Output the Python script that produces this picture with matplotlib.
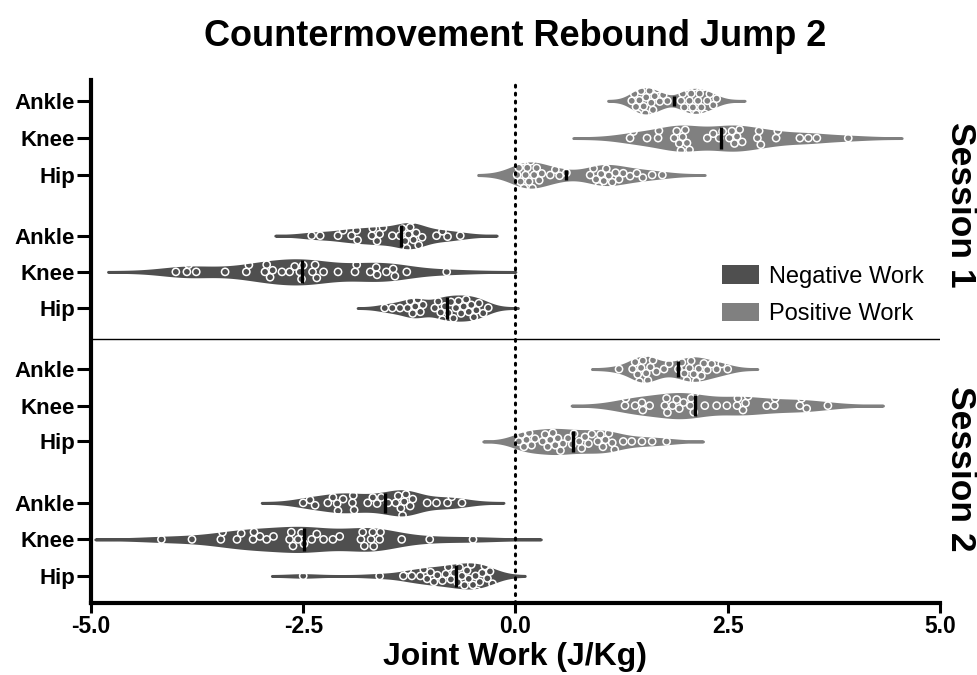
import numpy as np
import matplotlib
matplotlib.use('Agg')
import matplotlib.pyplot as plt
from matplotlib.patches import Patch

plt.rcParams['font.family'] = ['Liberation Sans', 'DejaVu Sans']

title = 'Countermovement Rebound Jump 2'
x_label = 'Joint Work (J/Kg)'
joints = ['Ankle', 'Knee', 'Hip']
sessions = ['Session 1', 'Session 2']
legend_labels = ['Negative Work', 'Positive Work']
x_ticks = [-5.0, -2.5, 0.0, 2.5, 5.0]
x_tick_labels = ['-5.0', '-2.5', '0.0', '2.5', '5.0']

# ---- Session 1 ----
s1_ankle_pos = [1.37, 1.40, 1.42, 1.44, 1.46, 1.48, 1.50, 1.51, 1.53, 1.54, 1.56, 1.58, 1.60,
                1.62, 1.64, 1.67, 1.70, 1.74, 1.79, 1.95, 1.97, 1.99, 2.01, 2.03, 2.05, 2.07,
                2.09, 2.11, 2.13, 2.15, 2.17, 2.19, 2.21, 2.23, 2.26, 2.29, 2.33, 2.37]
s1_knee_pos = [1.35, 1.39, 1.55, 1.68, 1.69, 1.87, 1.90, 1.93, 1.95, 1.97, 2.00, 2.02, 2.05,
               2.26, 2.33, 2.40, 2.44, 2.52, 2.55, 2.58, 2.61, 2.64, 2.67, 2.85, 2.87, 2.89,
               3.07, 3.09, 3.35, 3.45, 3.55, 3.92]
s1_hip_pos = [0.02, 0.04, 0.06, 0.08, 0.10, 0.12, 0.14, 0.16, 0.18, 0.20, 0.22, 0.25, 0.28,
              0.31, 0.41, 0.47, 0.52, 0.60, 0.88, 0.92, 0.95, 0.98, 1.01, 1.04, 1.07, 1.10,
              1.14, 1.18, 1.22, 1.27, 1.35, 1.43, 1.50, 1.61, 1.73]
s1_ankle_neg = [-2.40, -2.30, -2.09, -2.03, -1.93, -1.87, -1.86, -1.69, -1.68, -1.63, -1.60,
                -1.56, -1.45, -1.36, -1.33, -1.30, -1.28, -1.26, -1.24, -1.22, -1.20, -1.17,
                -1.14, -1.10, -0.93, -0.86, -0.80, -0.65]
s1_knee_neg = [-4.00, -3.87, -3.85, -3.76, -3.42, -3.17, -3.14, -2.95, -2.93, -2.89, -2.86,
               -2.75, -2.66, -2.60, -2.54, -2.52, -2.50, -2.39, -2.36, -2.34, -2.26, -2.09,
               -1.89, -1.87, -1.71, -1.64, -1.63, -1.52, -1.44, -1.42, -1.28, -0.81]
s1_hip_neg = [-1.54, -1.45, -1.36, -1.27, -1.24, -1.21, -1.18, -1.15, -1.12, -1.09, -0.95,
              -0.91, -0.88, -0.86, -0.83, -0.79, -0.76, -0.73, -0.70, -0.67, -0.64, -0.61,
              -0.58, -0.55, -0.52, -0.49, -0.46, -0.43, -0.38, -0.32]

# ---- Session 2 ----
s2_ankle_pos = [1.22, 1.38, 1.41, 1.44, 1.46, 1.48, 1.50, 1.52, 1.54, 1.56, 1.59, 1.62, 1.66,
                1.75, 1.81, 1.92, 1.96, 1.99, 2.02, 2.05, 2.07, 2.10, 2.13, 2.16, 2.19, 2.22,
                2.26, 2.31, 2.37, 2.43, 2.50]
s2_knee_pos = [1.29, 1.30, 1.41, 1.49, 1.50, 1.58, 1.76, 1.78, 1.79, 1.85, 1.90, 1.93, 1.98,
               2.06, 2.07, 2.10, 2.12, 2.23, 2.37, 2.49, 2.61, 2.62, 2.68, 2.71, 2.74, 2.96,
               3.05, 3.06, 3.35, 3.37, 3.43, 3.68]
s2_hip_pos = [0.04, 0.07, 0.10, 0.13, 0.16, 0.19, 0.23, 0.32, 0.35, 0.38, 0.41, 0.44, 0.47,
              0.50, 0.53, 0.56, 0.62, 0.67, 0.69, 0.75, 0.78, 0.82, 0.86, 0.90, 0.97, 1.00,
              1.03, 1.06, 1.10, 1.14, 1.17, 1.27, 1.37, 1.49, 1.61, 1.78]
s2_ankle_neg = [-2.50, -2.42, -2.36, -2.21, -2.15, -2.10, -2.09, -2.03, -1.92, -1.91, -1.90,
                -1.74, -1.68, -1.63, -1.58, -1.50, -1.41, -1.38, -1.35, -1.33, -1.31, -1.29,
                -1.27, -1.24, -1.21, -1.04, -0.93, -0.80, -0.75, -0.63]
s2_knee_neg = [-4.17, -3.81, -3.47, -3.45, -3.28, -3.23, -3.09, -3.08, -3.01, -2.93, -2.85,
               -2.66, -2.64, -2.62, -2.56, -2.52, -2.49, -2.40, -2.34, -2.26, -2.15, -2.07,
               -1.82, -1.80, -1.78, -1.70, -1.68, -1.67, -1.60, -1.59, -1.34, -1.01, -0.50]
s2_hip_neg = [-2.50, -1.60, -1.32, -1.27, -1.22, -1.12, -1.08, -1.04, -1.00, -0.96, -0.92,
              -0.86, -0.82, -0.79, -0.76, -0.72, -0.68, -0.66, -0.63, -0.60, -0.57, -0.55,
              -0.52, -0.50, -0.47, -0.45, -0.42, -0.39, -0.36, -0.33, -0.30, -0.27]

# extent of each drawn violin (J/Kg)
s1_pos_ranges = [(1.09, 2.70), (0.68, 4.55), (-0.44, 2.23)]
s1_neg_ranges = [(-2.83, -0.22), (-4.80, 0.00), (-1.86, 0.03)]
s2_pos_ranges = [(0.90, 2.85), (0.66, 4.33), (-0.38, 2.21)]
s2_neg_ranges = [(-2.99, -0.14), (-4.95, 0.30), (-2.87, 0.11)]

# ---- layout / style ----
NEG_COLOR = '#4f4f4f'
POS_COLOR = '#808080'
pos_rows_s1 = [13.0, 11.98, 10.97]
neg_rows_s1 = [9.31, 8.32, 7.33]
pos_rows_s2 = [5.66, 4.66, 3.68]
neg_rows_s2 = [2.0, 1.0, 0.0]
SEP_Y = 6.48
VIOLIN_WIDTH = 0.64
BW_FACTOR = 0.7

groups = []
for vals, rng, row in zip([s1_ankle_pos, s1_knee_pos, s1_hip_pos], s1_pos_ranges, pos_rows_s1):
    groups.append((vals, rng, row, POS_COLOR))
for vals, rng, row in zip([s1_ankle_neg, s1_knee_neg, s1_hip_neg], s1_neg_ranges, neg_rows_s1):
    groups.append((vals, rng, row, NEG_COLOR))
for vals, rng, row in zip([s2_ankle_pos, s2_knee_pos, s2_hip_pos], s2_pos_ranges, pos_rows_s2):
    groups.append((vals, rng, row, POS_COLOR))
for vals, rng, row in zip([s2_ankle_neg, s2_knee_neg, s2_hip_neg], s2_neg_ranges, neg_rows_s2):
    groups.append((vals, rng, row, NEG_COLOR))


def kde(vals, coords):
    v = np.asarray(vals, float)
    n = len(v)
    bw = v.std(ddof=1) * n ** (-0.2) * BW_FACTOR
    z = (coords[:, None] - v[None, :]) / bw
    return np.exp(-0.5 * z ** 2).sum(axis=1) / (n * bw * np.sqrt(2 * np.pi))


fig = plt.figure(figsize=(9.78, 6.75), dpi=100)
ax = fig.add_axes([0.0930, 0.1067, 0.8681, 0.7748])
ax.set_xlim(-5.0, 5.0)
ax.set_ylim(-0.74, 13.57)

for vals, rng, row, color in groups:
    coords = np.linspace(rng[0], rng[1], 400)
    dens = kde(vals, coords)
    v = np.asarray(vals, float)
    stats = [dict(coords=coords, vals=dens, mean=v.mean(), median=np.median(v),
                  min=rng[0], max=rng[1])]
    try:
        parts = ax.violin(stats, positions=[row], orientation='horizontal',
                          widths=VIOLIN_WIDTH, showextrema=False)
    except TypeError:
        parts = ax.violin(stats, positions=[row], vert=False,
                          widths=VIOLIN_WIDTH, showextrema=False)
    for b in parts['bodies']:
        b.set_facecolor(color)
        b.set_edgecolor(color)
        b.set_linewidth(2.0)
        b.set_alpha(1)
        b.set_joinstyle('round')
        b.set_capstyle('round')
        b.set_zorder(2)
    med = np.median(v)
    hw = 0.5 * VIOLIN_WIDTH * kde(vals, np.array([med]))[0] / dens.max()
    ax.plot([med, med], [row - hw, row + hw], color='black', lw=2.4,
            solid_capstyle='butt', zorder=5)

# swarm placement of points (computed in display space)
DIAM = 7.4


def swarm(vals, row):
    v = np.asarray(vals, float)
    disp = ax.transData.transform(np.column_stack([v, np.full(len(v), row)]))
    xp = disp[:, 0]
    y0 = disp[0, 1]
    order = np.argsort(xp)
    px, py = [], []
    out = np.zeros(len(v))
    for i in order:
        cands = [0.0]
        for xj, yj in zip(px, py):
            dx = abs(xp[i] - xj)
            if dx < DIAM:
                dy = np.sqrt(DIAM ** 2 - dx ** 2)
                cands += [yj + dy, yj - dy]
        cands = sorted(cands, key=lambda c: (abs(c), -c))
        chosen = cands[-1]
        for c in cands:
            ok = True
            for xj, yj in zip(px, py):
                if (xp[i] - xj) ** 2 + (c - yj) ** 2 < DIAM ** 2 - 0.05:
                    ok = False
                    break
            if ok:
                chosen = c
                break
        px.append(xp[i])
        py.append(chosen)
        out[i] = chosen
    pts = ax.transData.inverted().transform(np.column_stack([xp, y0 + out]))
    return pts[:, 1]


for vals, rng, row, color in groups:
    ys = swarm(vals, row)
    ax.scatter(vals, ys, s=27, facecolors='none', edgecolors='white',
               linewidths=1.1, zorder=4)

# zero reference line and session separator
ax.axvline(0, color='black', lw=2.2, linestyle=(0, (0.6, 2.0)),
           dash_capstyle='round', zorder=6)
ax.axhline(SEP_Y, color='black', lw=1.0, zorder=1)

# axes styling
for s in ['top', 'right']:
    ax.spines[s].set_visible(False)
for s in ['left', 'bottom']:
    ax.spines[s].set_linewidth(3.0)
ax.set_xticks(x_ticks)
ax.set_xticklabels(x_tick_labels, fontsize=16.5, fontweight='bold')
yt = pos_rows_s1 + neg_rows_s1 + pos_rows_s2 + neg_rows_s2
ax.set_yticks(yt)
ax.set_yticklabels(joints * 4, fontsize=16, fontweight='bold')
ax.tick_params(axis='x', length=7, width=2.2, direction='out', pad=2)
ax.tick_params(axis='y', length=10, width=2.2, direction='out', pad=1.5)
ax.set_xlabel(x_label, fontsize=23, fontweight='bold', labelpad=2.5)

fig.suptitle(title, fontsize=26, fontweight='bold', x=0.527, y=0.972)

fig.text(0.982, 0.696, sessions[0], rotation=-90, fontsize=25.5, fontweight='bold',
         ha='center', va='center')
fig.text(0.982, 0.305, sessions[1], rotation=-90, fontsize=25.5, fontweight='bold',
         ha='center', va='center')

handles = [Patch(facecolor=NEG_COLOR, edgecolor='none'),
           Patch(facecolor=POS_COLOR, edgecolor='none')]
ax.legend(handles, legend_labels, loc='upper left', bbox_to_anchor=(0.729, 0.668),
          frameon=False, fontsize=17, handlelength=1.6, handleheight=0.85,
          handletextpad=0.42, labelspacing=0.62, borderpad=0)

fig.savefig('out.png', dpi=100)
